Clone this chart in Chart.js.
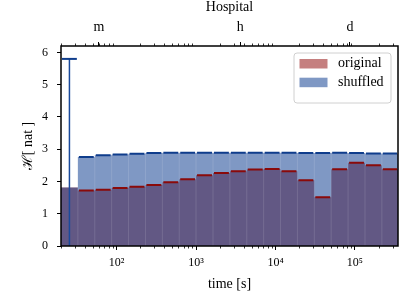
<!DOCTYPE html>
<html>
<head>
<meta charset="utf-8">
<script src="https://cdn.jsdelivr.net/npm/chart.js@4"></script>
<style>
  html, body { margin: 0; padding: 0; background: #fff; }
</style>
</head>
<body>
<canvas id="entropyChart" width="406" height="308"></canvas>
<script>
// log spaced time bins [s]
const binEdges = [20, 32.6, 53.2, 86.8, 141.6, 231, 377, 615, 1000, 1635, 2667,
  4350, 7100, 11580, 18880, 30800, 50200, 81900, 133600, 218000, 348000];
const originalValues = [1.81, 1.72, 1.74, 1.80, 1.84, 1.89, 1.98, 2.07, 2.19, 2.26,
  2.32, 2.37, 2.39, 2.32, 2.04, 1.51, 2.38, 2.58, 2.50, 2.38];
const shuffledValues = [1.81, 2.76, 2.81, 2.84, 2.86, 2.88, 2.89, 2.89, 2.89, 2.89,
  2.89, 2.89, 2.89, 2.89, 2.88, 2.88, 2.89, 2.88, 2.87, 2.87];
const firstBinTop = 5.8; // error bar of the first shuffled bin

const xTickValues = [100, 1000, 10000, 100000];
const xTickLabels = ["10²", "10³", "10⁴", "10⁵"];
const topTickValues = [60, 3600, 86400];
const topTickLabels = ["m", "h", "d"];
const yTickValues = [0, 1, 2, 3, 4, 5, 6];

const serif = "'Liberation Serif', 'DejaVu Serif', serif";
const redFill = "rgba(139, 0, 0, 0.5)";
const blueFill = "rgba(0, 50, 138, 0.5)";

// unlabelled minor ticks of the log axis
const minorTicks = [];
for (let p = 1; p <= 5; p++) {
  for (let m = 2; m <= 9; m++) {
    const v = m * Math.pow(10, p);
    if (v >= 20 && v <= 348000) minorTicks.push(v);
  }
}

function stepPoints(values) {
  const pts = values.map((v, i) => ({ x: binEdges[i], y: v }));
  pts.push({ x: binEdges[values.length], y: values[values.length - 1] });
  return pts;
}

// short horizontal marks on top of each bin
function capPoints(values, from) {
  const pts = [];
  for (let i = from; i < values.length; i++) {
    const a = Math.log10(binEdges[i]);
    const b = Math.log10(binEdges[i + 1]);
    const w = b - a;
    pts.push({ x: Math.pow(10, a + 0.06 * w), y: values[i] });
    pts.push({ x: Math.pow(10, b - 0.06 * w), y: values[i] });
    pts.push({ x: Math.pow(10, b), y: null });
  }
  return pts;
}

// faint seams between neighbouring bins
function seamPoints() {
  const pts = [];
  for (let i = 1; i < shuffledValues.length; i++) {
    const top = Math.min(shuffledValues[i - 1], shuffledValues[i]);
    pts.push({ x: binEdges[i], y: 0 });
    pts.push({ x: binEdges[i], y: top });
    pts.push({ x: binEdges[i], y: null });
  }
  return pts;
}

const b0 = Math.log10(binEdges[0]);
const b1 = Math.log10(binEdges[1]);
const firstCenter = Math.pow(10, (b0 + b1) / 2);

const extras = {
  id: "extras",
  afterDraw(chart) {
    const { ctx, chartArea: a, scales } = chart;
    ctx.save();
    // minor ticks, bottom and top
    ctx.strokeStyle = "#000";
    ctx.lineWidth = 0.8;
    ctx.beginPath();
    minorTicks.forEach((v) => {
      const x = Math.round(scales.x.getPixelForValue(v)) + 0.5;
      ctx.moveTo(x, a.bottom);
      ctx.lineTo(x, a.bottom + 2.5);
      ctx.moveTo(x, a.top);
      ctx.lineTo(x, a.top - 2.5);
    });
    ctx.stroke();
    // frame
    ctx.lineWidth = 1.5;
    ctx.strokeRect(a.left, a.top, a.right - a.left, a.bottom - a.top);

    // legend
    const lx = a.right - 104, ly = a.top + 7, lw = 97, lh = 50;
    ctx.beginPath();
    ctx.roundRect(lx, ly, lw, lh, 3);
    ctx.fillStyle = "rgba(255,255,255,0.8)";
    ctx.fill();
    ctx.strokeStyle = "#d0d0d0";
    ctx.lineWidth = 1;
    ctx.stroke();
    const items = [["original", redFill], ["shuffled", blueFill]];
    ctx.font = "14px " + serif;
    ctx.textBaseline = "middle";
    items.forEach((it, i) => {
      const y = ly + 6 + i * 18.7;
      ctx.fillStyle = it[1];
      ctx.fillRect(lx + 5.5, y, 28, 9.5);
      ctx.fillStyle = "#000";
      ctx.fillText(it[0], lx + 44, y + 4.5);
    });
    ctx.restore();
  },
};

const ctx = document.getElementById("entropyChart").getContext("2d");
const entropyChart = new Chart(ctx, {
  type: "line",
  data: {
    datasets: [
      {
        label: "shuffled caps",
        data: capPoints(shuffledValues, 1),
        borderColor: "#0f3d8c",
        borderWidth: 2,
        pointRadius: 0,
        fill: false,
        spanGaps: false,
      },
      {
        label: "original caps",
        data: capPoints(originalValues, 1),
        borderColor: "#8a0a0a",
        borderWidth: 2,
        pointRadius: 0,
        fill: false,
        spanGaps: false,
      },
      {
        label: "first bin cap",
        data: [
          { x: Math.pow(10, b0 + 0.06 * (b1 - b0)), y: firstBinTop },
          { x: Math.pow(10, b1 - 0.06 * (b1 - b0)), y: firstBinTop },
        ],
        borderColor: "#0f3d8c",
        borderWidth: 2,
        pointRadius: 0,
        fill: false,
      },
      {
        label: "first bin bar",
        data: [
          { x: firstCenter, y: 0 },
          { x: firstCenter, y: firstBinTop },
        ],
        borderColor: "#1a4a9c",
        borderWidth: 1.5,
        pointRadius: 0,
        fill: false,
      },
      {
        label: "seams",
        data: seamPoints(),
        borderColor: "rgba(255,255,255,0.12)",
        borderWidth: 1,
        pointRadius: 0,
        fill: false,
        spanGaps: false,
      },
      {
        label: "shuffled",
        data: stepPoints(shuffledValues),
        stepped: "before",
        borderColor: "rgba(0,0,0,0)",
        borderWidth: 0,
        backgroundColor: blueFill,
        pointRadius: 0,
        fill: "origin",
      },
      {
        label: "original",
        data: stepPoints(originalValues),
        stepped: "before",
        borderColor: "rgba(0,0,0,0)",
        borderWidth: 0,
        backgroundColor: redFill,
        pointRadius: 0,
        fill: "origin",
      },
    ],
  },
  options: {
    responsive: false,
    animation: false,
    devicePixelRatio: 1,
    layout: { padding: { left: 0, right: 8, top: 0, bottom: 0 } },
    plugins: {
      legend: { display: false },
      tooltip: { enabled: false },
    },
    scales: {
      x: {
        type: "logarithmic",
        position: "bottom",
        min: 20,
        max: 348000,
        afterBuildTicks: (s) => {
          s.ticks = xTickValues.map((v) => ({ value: v }));
        },
        afterFit: (s) => {
          s.height = 62;
        },
        ticks: {
          callback: (v, i) => xTickLabels[i],
          autoSkip: false,
          maxRotation: 0,
          padding: 6,
          color: "#000",
          font: { family: serif, size: 12 },
        },
        grid: { display: true, drawOnChartArea: false, tickLength: 4, tickColor: "#000", tickWidth: 1 },
        border: { display: false },
        title: {
          display: true,
          text: "time [s]",
          color: "#000",
          padding: { top: 0, bottom: 15 },
          font: { family: serif, size: 14, lineHeight: 1.2 },
        },
      },
      xTop: {
        type: "logarithmic",
        position: "top",
        min: 20,
        max: 348000,
        afterBuildTicks: (s) => {
          s.ticks = topTickValues.map((v) => ({ value: v }));
        },
        afterFit: (s) => {
          s.height = 46;
        },
        ticks: {
          callback: (v, i) => topTickLabels[i],
          autoSkip: false,
          maxRotation: 0,
          padding: 6,
          color: "#000",
          font: { family: serif, size: 14 },
        },
        grid: { display: true, drawOnChartArea: false, tickLength: 4, tickColor: "#000", tickWidth: 1 },
        border: { display: false },
        title: {
          display: true,
          text: "Hospital",
          color: "#000",
          padding: { top: 0, bottom: 0 },
          font: { family: serif, size: 14, lineHeight: 1 },
        },
      },
      y: {
        min: 0,
        max: 6.2,
        afterBuildTicks: (s) => {
          s.ticks = yTickValues.map((v) => ({ value: v }));
        },
        afterFit: (s) => {
          s.width = 61;
        },
        ticks: {
          padding: 9,
          color: "#000",
          font: { family: serif, size: 12 },
        },
        grid: { display: true, drawOnChartArea: false, tickLength: 4, tickColor: "#000", tickWidth: 1 },
        border: { display: false },
        title: {
          display: true,
          text: "ℋ[ nat ]",
          color: "#000",
          padding: { top: 21, bottom: 0 },
          font: { family: serif, size: 14, lineHeight: 1 },
        },
      },
    },
  },
  plugins: [extras],
});
</script>
</body>
</html>
